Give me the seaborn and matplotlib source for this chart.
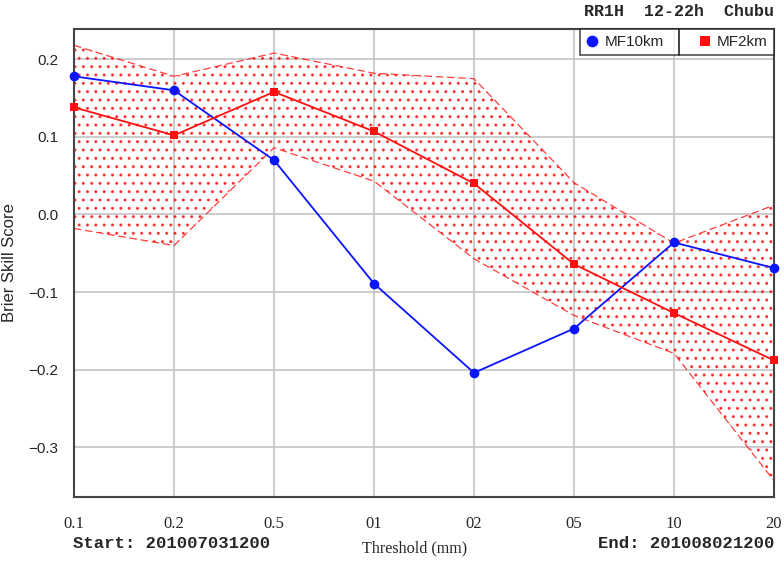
"""
Brier Skill Score vs threshold, MF10km / MF2km
"""

import numpy as np
import pandas as pd
import matplotlib
matplotlib.use("Agg")
import matplotlib.pyplot as plt
from matplotlib.lines import Line2D
import seaborn as sns


# Data

thresholds = ["0.1", "0.2", "0.5", "01", "02", "05", "10", "20"]
mf10km = [0.178, 0.160, 0.070, -0.089, -0.204, -0.147, -0.036, -0.069]
mf2km = [0.138, 0.102, 0.158, 0.107, 0.040, -0.064, -0.127, -0.188]
mf2km_upper = [0.218, 0.178, 0.208, 0.182, 0.175, 0.041, -0.037, 0.012]
mf2km_lower = [-0.018, -0.040, 0.086, 0.043, -0.057, -0.130, -0.179, -0.343]
y_ticks = [0.2, 0.1, 0.0, -0.1, -0.2, -0.3]

title_text = "RR1H  12-22h  Chubu"
start_text = "Start: 201007031200"
end_text = "End: 201008021200"

BLUE = "#0a14ff"
RED = "#ff1010"


def main():
    sns.set_style("white")
    plt.rcParams["font.family"] = ["Liberation Sans", "DejaVu Sans"]
    plt.rcParams["hatch.linewidth"] = 1.0
    plt.rcParams["hatch.color"] = RED

    x = np.arange(len(thresholds))
    df = pd.DataFrame({
        "x": np.concatenate([x, x]),
        "bss": mf10km + mf2km,
        "model": ["MF10km"] * len(x) + ["MF2km"] * len(x),
    })

    fig = plt.figure(figsize=(7.84, 5.61), dpi=100)
    ax = fig.add_axes([74 / 784, 1 - 497 / 561, 700 / 784, 468 / 561])

    # stippled spread band for MF2km
    ax.fill_between(x, mf2km_lower, mf2km_upper, facecolor="none",
                    edgecolor=RED, hatch="..", linewidth=0, alpha=0.75, zorder=1)
    ax.plot(x, mf2km_upper, color=RED, lw=0.9, ls=(0, (6, 3)), alpha=0.8, zorder=2)
    ax.plot(x, mf2km_lower, color=RED, lw=0.9, ls=(0, (6, 3)), alpha=0.8, zorder=2)

    sns.lineplot(data=df, x="x", y="bss", hue="model", style="model",
                 palette={"MF10km": BLUE, "MF2km": RED},
                 markers={"MF10km": "o", "MF2km": "s"}, dashes=False,
                 markeredgewidth=0, linewidth=1.3, ax=ax, zorder=3)
    for line in ax.get_lines():
        if line.get_marker() == "o":
            line.set_markersize(7)
        elif line.get_marker() == "s":
            line.set_markersize(5.5)
        line.set_clip_on(False)

    ax.set_xlim(0, len(thresholds) - 1)
    ax.set_ylim(-0.364, 0.239)
    ax.set_xticks(x)
    ax.set_xticklabels(thresholds, family="Liberation Serif", fontsize=12)
    ax.set_yticks(y_ticks)
    ax.set_yticklabels([f"{v:.1f}".replace("-", "\u2212") for v in y_ticks], fontsize=11)
    ax.tick_params(axis="x", length=0, pad=14)
    ax.tick_params(axis="y", length=0, pad=11)
    ax.grid(True, color="#c4c4c4", lw=1.2, zorder=0)
    ax.set_axisbelow(True)
    for sp in ax.spines.values():
        sp.set_color("#444444")
        sp.set_linewidth(1.5)

    ax.set_xlabel("")
    ax.set_ylabel("")
    fig.text(10 / 784, 1 - 263 / 561, "Brier Skill Score", rotation=90,
             ha="center", va="center", fontsize=12)

    handles, labels = ax.get_legend_handles_labels()
    leg = ax.legend(handles, labels, loc="upper right", ncol=2, frameon=True,
                    fancybox=False, borderaxespad=0.0, fontsize=11,
                    handlelength=0.8, handletextpad=0.4, columnspacing=2.3,
                    borderpad=0.4, markerscale=1.2, bbox_to_anchor=(1.0, 1.0))
    leg.get_frame().set_edgecolor("#222222")
    leg.get_frame().set_linewidth(1.2)
    for h in leg.legend_handles:
        h.set_linestyle("none")

    # divider between the two legend cells
    fig.canvas.draw()
    inv = fig.transFigure.inverted()
    bb = leg.get_window_extent()
    t1 = leg.get_texts()[0].get_window_extent()
    h2 = leg.legend_handles[1].get_window_extent(fig.canvas.get_renderer())
    xdiv = (t1.x1 + h2.x0) / 2
    (fx, fy0) = inv.transform((xdiv, bb.y0))
    (_, fy1) = inv.transform((xdiv, bb.y1))
    fig.add_artist(Line2D([fx, fx], [fy0, fy1], color="#222222", lw=1.2))

    fig.text(774 / 784, 1 - 11 / 561, title_text, ha="right", va="center",
             family="Liberation Mono", weight="bold", fontsize=12)
    fig.text(73 / 784, 1 - 544 / 561, start_text, ha="left", va="center",
             family="Liberation Mono", weight="bold", fontsize=12.4)
    fig.text(774 / 784, 1 - 544 / 561, end_text, ha="right", va="center",
             family="Liberation Mono", weight="bold", fontsize=12.4)
    fig.text(415 / 784, 1 - 548 / 561, "Threshold (mm)", ha="center", va="center",
             family="Liberation Serif", fontsize=11.6)

    fig.savefig("out.png", dpi=100)
    plt.close(fig)


if __name__ == "__main__":
    main()
